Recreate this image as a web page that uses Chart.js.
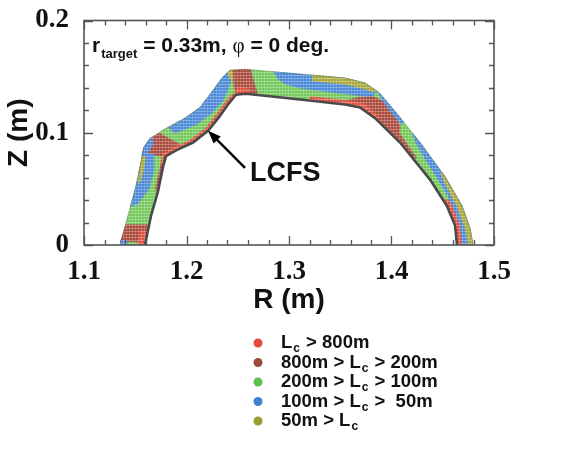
<!DOCTYPE html>
<html>
<head>
<meta charset="utf-8">
<script src="https://cdn.jsdelivr.net/npm/chart.js@4.4.1/dist/chart.umd.min.js"></script>
<style>
  html, body { margin: 0; padding: 0; background: #fff; }
</style>
</head>
<body>
<canvas id="lc-chart" width="581" height="458"></canvas>
<script>
// connection length classes (legend order)
const categories = ["L_c > 800m", "800m > L_c > 200m", "200m > L_c > 100m", "100m > L_c >  50m", "50m > L_c"];
const legendColors = ["#e8493d", "#9e4a3e", "#5fbf50", "#4080d0", "#9d9b33"];
const bandColors = ["#e0503f", "#aa4a3c", "#74c75b", "#4a88d8", "#a9a73b"];

const xTicks = [1.1, 1.2, 1.3, 1.4, 1.5];
const yTicks = [0, 0.1, 0.2];

// LCFS (inner edge of the band) and outer edge, [R, Z] in m
const innerEdge = [
  [1.1595, 0], [1.1654, 0.0261], [1.1722, 0.0478], [1.1771, 0.0696], [1.18, 0.0791],
  [1.1898, 0.0843], [1.2063, 0.0913], [1.221, 0.1017], [1.2317, 0.1139], [1.2405, 0.1252],
  [1.2483, 0.1339], [1.258, 0.1348], [1.3107, 0.1296], [1.3546, 0.1252], [1.3693, 0.1226],
  [1.3839, 0.113], [1.4083, 0.0913], [1.4376, 0.0583], [1.4541, 0.0348], [1.462, 0.0174],
  [1.4639, 0]
];
const outerEdge = [
  [1.1351, 0], [1.1429, 0.0261], [1.1507, 0.0522], [1.1556, 0.0739], [1.1585, 0.087],
  [1.1644, 0.0948], [1.179, 0.1035], [1.1985, 0.113], [1.2132, 0.1226], [1.2249, 0.1365],
  [1.2346, 0.1487], [1.2424, 0.1557], [1.2571, 0.1565], [1.3107, 0.1522], [1.3546, 0.1487],
  [1.3741, 0.1443], [1.3888, 0.1348], [1.4034, 0.1191], [1.4278, 0.0913], [1.4522, 0.0609],
  [1.4688, 0.0348], [1.4766, 0.0148], [1.4795, 0]
];

// coloured patches inside the band (the rest is green)
const brownPatches = [
  [[1.1353, 0.003], [1.1597, 0.003], [1.1636, 0.018], [1.1405, 0.018]],
  [[1.1715, 0.045], [1.1722, 0.0478], [1.1771, 0.0696], [1.18, 0.0791], [1.1772, 0.081], [1.1745, 0.07], [1.1697, 0.05]],
  [[1.157, 0.082], [1.1585, 0.087], [1.1644, 0.0948], [1.174, 0.0995], [1.1975, 0.0876], [1.1898, 0.0843], [1.18, 0.0791], [1.168, 0.08]],
  [[1.2445, 0.1555], [1.2571, 0.1565], [1.2625, 0.1561], [1.2695, 0.1337], [1.258, 0.1348], [1.2483, 0.1339], [1.2465, 0.141], [1.2455, 0.148]],
  [[1.3546, 0.1285], [1.3675, 0.1315], [1.3815, 0.1325], [1.392, 0.128], [1.3995, 0.12], [1.4055, 0.112], [1.4085, 0.105],
   [1.4075, 0.1], [1.4135, 0.092], [1.421, 0.082], [1.4245, 0.0775], [1.4205, 0.0775], [1.4083, 0.0913], [1.3839, 0.113], [1.3693, 0.1226]]
];
const bluePatches = [
  [[1.1351, 0], [1.143, 0], [1.1415, 0.004], [1.1356, 0.004]],
  [[1.1453, 0.034], [1.1507, 0.0522], [1.1556, 0.0739], [1.157, 0.082], [1.1675, 0.081], [1.168, 0.066], [1.1635, 0.05], [1.152, 0.036]],
  [[1.1565, 0.08], [1.1585, 0.087], [1.1644, 0.0948], [1.1665, 0.096], [1.167, 0.089], [1.162, 0.082]],
  [[1.182, 0.1045], [1.1985, 0.113], [1.2132, 0.1226], [1.2249, 0.1365], [1.2346, 0.1487], [1.2395, 0.1535],
   [1.2435, 0.146], [1.2358, 0.1286], [1.2243, 0.1174], [1.2098, 0.1074], [1.1886, 0.0995]],
  [[1.2845, 0.1543], [1.3107, 0.1522], [1.3546, 0.1487], [1.3741, 0.1443], [1.386, 0.137], [1.3815, 0.1325],
   [1.3741, 0.1325], [1.3546, 0.1346], [1.3107, 0.1398], [1.296, 0.1435], [1.289, 0.148]],
  [[1.386, 0.137], [1.3888, 0.1348], [1.4034, 0.1191], [1.412, 0.1093], [1.409, 0.108], [1.401, 0.1165], [1.3915, 0.128]],
  [[1.4202, 0.1], [1.4278, 0.0913], [1.4522, 0.0609], [1.4688, 0.0348], [1.4766, 0.0148], [1.4795, 0], [1.469, 0],
   [1.467, 0.015], [1.4605, 0.03], [1.455, 0.044], [1.4445, 0.06], [1.432, 0.078], [1.4225, 0.093]]
];
const olivePatches = [
  [[1.1525, 0.056], [1.1556, 0.0739], [1.1568, 0.08], [1.1598, 0.078], [1.158, 0.066], [1.155, 0.056]],
  [[1.2395, 0.1535], [1.2424, 0.1557], [1.2445, 0.1555], [1.2455, 0.148], [1.2435, 0.146]],
  [[1.3225, 0.1513], [1.3546, 0.1487], [1.3741, 0.1443], [1.386, 0.137], [1.3815, 0.1362], [1.3741, 0.139],
   [1.3546, 0.1432], [1.3225, 0.146]],
  [[1.4468, 0.066], [1.4522, 0.0609], [1.4688, 0.0348], [1.4766, 0.0148], [1.4795, 0], [1.475, 0], [1.4718, 0.015],
   [1.4645, 0.033], [1.451, 0.057]]
];
const redPatches = [
  [[1.152, 0], [1.1595, 0], [1.1625, 0.013], [1.155, 0.013]],
  [[1.1771, 0.0696], [1.18, 0.0791], [1.1898, 0.0843], [1.1975, 0.0876], [1.196, 0.0905], [1.1885, 0.087], [1.1775, 0.0815], [1.175, 0.072]],
  [[1.1898, 0.0843], [1.2063, 0.0913], [1.221, 0.1017], [1.2317, 0.1139], [1.2405, 0.1252], [1.2483, 0.1339],
   [1.246, 0.1355], [1.238, 0.1275], [1.2292, 0.1162], [1.2185, 0.104], [1.204, 0.0937], [1.1885, 0.0866]],
  [[1.2483, 0.1339], [1.258, 0.1348], [1.2625, 0.1344], [1.261, 0.139], [1.252, 0.141], [1.2485, 0.139]],
  [[1.32, 0.1287], [1.3546, 0.1252], [1.3693, 0.1226], [1.3839, 0.113], [1.388, 0.1135], [1.3735, 0.1258],
   [1.3555, 0.1288], [1.3205, 0.1322]],
  [[1.451, 0.04], [1.4541, 0.0348], [1.462, 0.0174], [1.4639, 0], [1.4685, 0], [1.4665, 0.018], [1.4585, 0.036], [1.455, 0.041]]
];

// LCFS arrow: tail, head; label position
const arrowTail = [1.2571, 0.0687];
const arrowHead = [1.221, 0.1017];
const lcfsLabel = [1.262, 0.0635];

function patch(pts, color, order) {
  return {
    type: "line",
    data: pts.map(p => ({x: p[0], y: p[1]})),
    showLine: true,
    fill: "shape",
    backgroundColor: color,
    borderColor: color,
    borderWidth: 0.6,
    pointRadius: 0,
    tension: 0,
    order: order
  };
}

// faint dot grid, like the individual field-line markers of the original plot
const dotTile = document.createElement("canvas");
dotTile.width = 3; dotTile.height = 3;
const tctx = dotTile.getContext("2d");
tctx.fillStyle = "rgba(255,255,255,0.28)";
tctx.fillRect(0, 0, 3, 1);
tctx.fillStyle = "rgba(255,255,255,0.18)";
tctx.fillRect(0, 0, 1, 3);
const dotPattern = tctx.createPattern(dotTile, "repeat");

const bandOutline = innerEdge.concat(outerEdge.slice().reverse());

const datasets = [];
datasets.push({
  type: "line",
  data: innerEdge.map(p => ({x: p[0], y: p[1]})),
  showLine: true, fill: false, borderColor: "#4a4a4a", borderWidth: 2.6,
  pointRadius: 0, tension: 0, order: 0
});
datasets.push(Object.assign(patch(bandOutline, dotPattern, 1), { borderWidth: 0.8, borderColor: "rgba(90,90,90,0.35)" }));
redPatches.forEach(p => datasets.push(patch(p, bandColors[0], 2)));
olivePatches.forEach(p => datasets.push(patch(p, bandColors[4], 4)));
bluePatches.forEach(p => datasets.push(patch(p, bandColors[3], 6)));
brownPatches.forEach(p => datasets.push(patch(p, bandColors[1], 8)));
datasets.push(patch(bandOutline, bandColors[2], 10));

const isMajor = v => Math.abs(v * 10 - Math.round(v * 10)) < 1e-6;

function drawSubbed(ctx, text, x, y, size, subSize) {
  // draws "L_c" style text with a subscript c
  const parts = text.split("_c");
  let cx = x;
  parts.forEach((part, i) => {
    ctx.font = "bold " + size + "px 'Liberation Sans', Arial, sans-serif";
    ctx.fillText(part, cx, y);
    cx += ctx.measureText(part).width;
    if (i < parts.length - 1) {
      ctx.font = "bold " + subSize + "px 'Liberation Sans', Arial, sans-serif";
      ctx.fillText("c", cx + 1, y + 6);
      cx += ctx.measureText("c").width + 2;
    }
  });
}

const overlay = {
  id: "overlay",
  afterDraw(chart) {
    const {ctx, chartArea: a, scales: {x, y}} = chart;
    ctx.save();

    // inward tick marks on all four sides
    ctx.strokeStyle = "#555";
    ctx.lineWidth = 1.3;
    ctx.beginPath();
    x.ticks.forEach(t => {
      const px = Math.round(x.getPixelForValue(t.value)) + 0.5;
      const len = isMajor(t.value) ? 9 : 5;
      ctx.moveTo(px, a.bottom); ctx.lineTo(px, a.bottom - len);
      ctx.moveTo(px, a.top); ctx.lineTo(px, a.top + len);
    });
    y.ticks.forEach(t => {
      const py = Math.round(y.getPixelForValue(t.value)) + 0.5;
      const len = isMajor(t.value) ? 9 : 5;
      ctx.moveTo(a.left, py); ctx.lineTo(a.left + len, py);
      ctx.moveTo(a.right, py); ctx.lineTo(a.right - len, py);
    });
    ctx.stroke();
    ctx.lineWidth = 1.6;
    ctx.strokeRect(a.left, a.top, a.right - a.left, a.bottom - a.top);

    ctx.fillStyle = "#111";
    ctx.textBaseline = "alphabetic";
    ctx.textAlign = "left";

    // header text
    let tx = a.left + 8;
    const ty = a.top + 31;
    ctx.font = "bold 21px 'Liberation Sans', Arial, sans-serif";
    ctx.fillText("r", tx, ty);
    tx += ctx.measureText("r").width + 1;
    ctx.font = "bold 13px 'Liberation Sans', Arial, sans-serif";
    ctx.fillText("target", tx, ty + 6);
    tx += ctx.measureText("target").width;
    ctx.font = "bold 21px 'Liberation Sans', Arial, sans-serif";
    ctx.fillText(" = 0.33m, ", tx, ty);
    tx += ctx.measureText(" = 0.33m, ").width;
    ctx.font = "21px 'Liberation Serif', serif";
    ctx.fillText("\u03c6", tx, ty);
    tx += ctx.measureText("\u03c6").width;
    ctx.font = "bold 21px 'Liberation Sans', Arial, sans-serif";
    ctx.fillText(" = 0 deg.", tx, ty);

    // LCFS arrow
    const x0 = x.getPixelForValue(arrowTail[0]), y0 = y.getPixelForValue(arrowTail[1]);
    const x1 = x.getPixelForValue(arrowHead[0]), y1 = y.getPixelForValue(arrowHead[1]);
    const ang = Math.atan2(y1 - y0, x1 - x0);
    ctx.strokeStyle = "#000";
    ctx.lineWidth = 2.4;
    ctx.beginPath();
    ctx.moveTo(x0, y0);
    ctx.lineTo(x1 - 9 * Math.cos(ang), y1 - 9 * Math.sin(ang));
    ctx.stroke();
    ctx.fillStyle = "#000";
    ctx.beginPath();
    ctx.moveTo(x1, y1);
    ctx.lineTo(x1 - 13 * Math.cos(ang) + 5 * Math.sin(ang), y1 - 13 * Math.sin(ang) - 5 * Math.cos(ang));
    ctx.lineTo(x1 - 13 * Math.cos(ang) - 5 * Math.sin(ang), y1 - 13 * Math.sin(ang) + 5 * Math.cos(ang));
    ctx.closePath();
    ctx.fill();

    ctx.fillStyle = "#111";
    ctx.textBaseline = "middle";
    ctx.font = "bold 27px 'Liberation Sans', Arial, sans-serif";
    ctx.fillText("LCFS", x.getPixelForValue(lcfsLabel[0]), y.getPixelForValue(lcfsLabel[1]));

    // axis titles
    ctx.textAlign = "center";
    ctx.font = "bold 28px 'Liberation Sans', Arial, sans-serif";
    ctx.fillText("R (m)", (a.left + a.right) / 2, a.bottom + 55);
    ctx.save();
    ctx.translate(19, (a.top + a.bottom) / 2);
    ctx.rotate(-Math.PI / 2);
    ctx.fillText("Z (m)", 0, 0);
    ctx.restore();

    // legend
    ctx.textAlign = "left";
    ctx.textBaseline = "middle";
    categories.forEach((label, i) => {
      const ly = 343 + i * 19.5;
      ctx.fillStyle = legendColors[i];
      ctx.beginPath();
      ctx.arc(258, ly, 4.5, 0, Math.PI * 2);
      ctx.fill();
      ctx.fillStyle = "#111";
      drawSubbed(ctx, label, 281, ly, 18.5, 12);
    });

    ctx.restore();
  }
};

new Chart(document.getElementById("lc-chart"), {
  type: "scatter",
  data: { datasets: datasets },
  options: {
    responsive: false,
    animation: false,
    events: [],
    layout: { padding: { left: 0, top: 15, right: 87, bottom: 0 } },
    plugins: { legend: { display: false }, tooltip: { enabled: false } },
    scales: {
      x: {
        type: "linear", min: 1.1, max: 1.5,
        grid: { display: false }, border: { display: false },
        ticks: {
          stepSize: 0.02, autoSkip: false, maxRotation: 0, padding: 3, color: "#111",
          font: { family: "'Liberation Serif', serif", weight: "bold", size: 27 },
          callback: v => {
            const t = xTicks.find(k => Math.abs(k - v) < 1e-6);
            return t === undefined ? "" : t.toFixed(1);
          }
        },
        afterFit: s => { s.height = 213; }
      },
      y: {
        type: "linear", min: 0, max: 0.2,
        grid: { display: false }, border: { display: false },
        ticks: {
          stepSize: 0.02, autoSkip: false, padding: 7, color: "#111",
          font: { family: "'Liberation Serif', serif", weight: "bold", size: 27, lineHeight: 1 },
          callback: v => {
            const t = yTicks.find(k => Math.abs(k - v) < 1e-6);
            return t === undefined ? "" : (t === 0 ? "0" : t.toFixed(1));
          }
        },
        afterFit: s => { s.width = 84; }
      }
    }
  },
  plugins: [overlay]
});
</script>
</body>
</html>
